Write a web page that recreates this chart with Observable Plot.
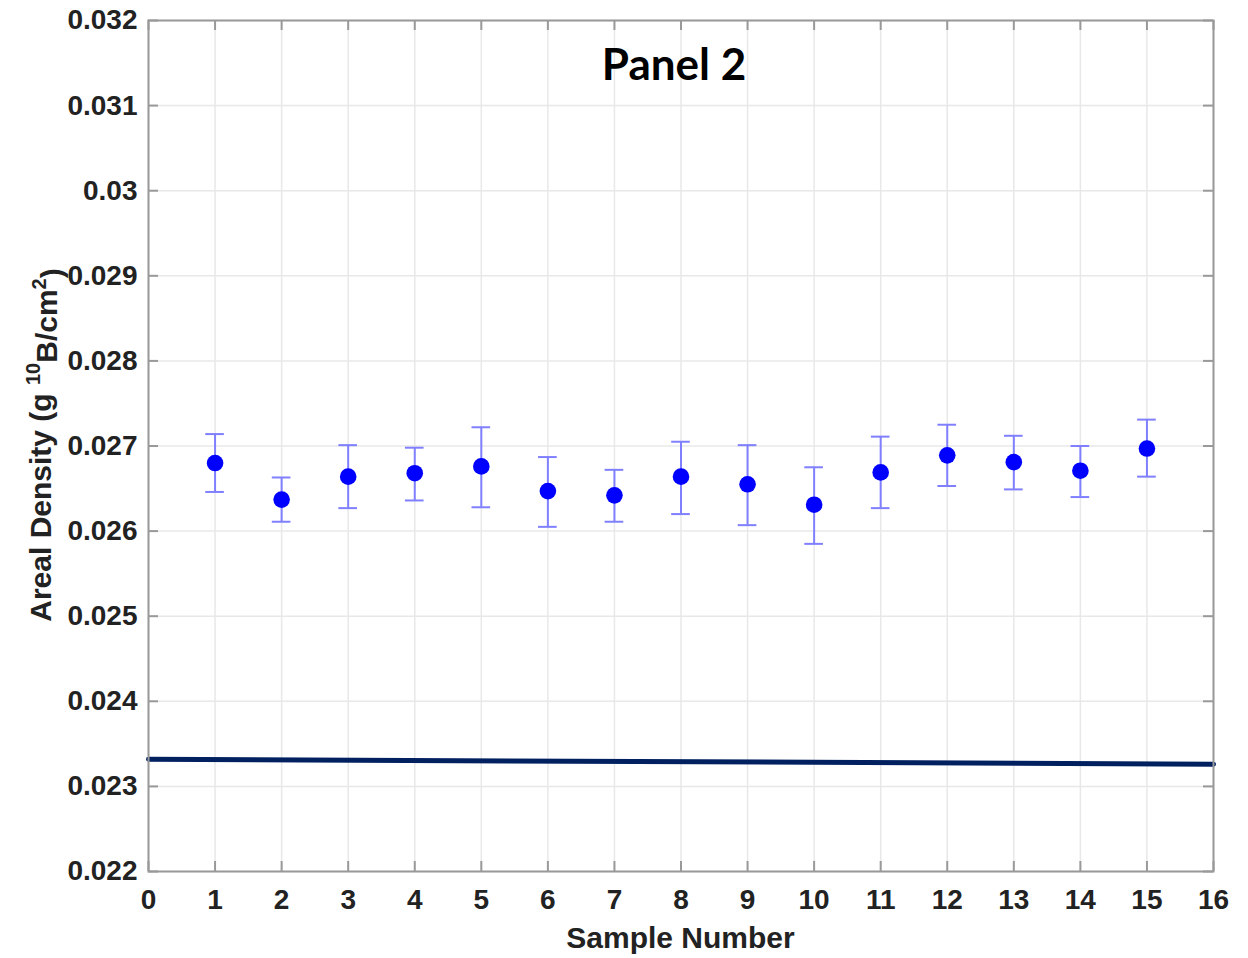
<!DOCTYPE html>
<html><head><meta charset="utf-8">
<script src="https://cdn.jsdelivr.net/npm/d3@7"></script>
<script src="https://cdn.jsdelivr.net/npm/@observablehq/plot@0.6"></script>
<style>body{margin:0;background:#fff}#chart svg{display:block}</style>
</head><body><div id="chart"></div>
<script>
const samples = [1, 2, 3, 4, 5, 6, 7, 8, 9, 10, 11, 12, 13, 14, 15];
const density = [0.02680, 0.02637, 0.02664, 0.02668, 0.02676, 0.02647, 0.02642, 0.02664, 0.02655, 0.02631, 0.02669, 0.02689, 0.02681, 0.02671, 0.02697];
const upper   = [0.02714, 0.02663, 0.02701, 0.02698, 0.02722, 0.02687, 0.02672, 0.02705, 0.02701, 0.02675, 0.02711, 0.02725, 0.02712, 0.02700, 0.02731];
const lower   = [0.02646, 0.02611, 0.02627, 0.02636, 0.02628, 0.02605, 0.02611, 0.02620, 0.02607, 0.02585, 0.02627, 0.02653, 0.02649, 0.02640, 0.02664];
const refX = [0, 16];
const refY = [0.02332, 0.02326];
const xTicks = [0, 1, 2, 3, 4, 5, 6, 7, 8, 9, 10, 11, 12, 13, 14, 15, 16];
const yTicks = [0.022, 0.023, 0.024, 0.025, 0.026, 0.027, 0.028, 0.029, 0.030, 0.031, 0.032];
const titleText = "Panel 2";
const xLabel = "Sample Number";

const rows = samples.map((s, i) => ({sample: s, value: density[i], hi: upper[i], lo: lower[i]}));
const refRows = refX.map((x, i) => ({x, y: refY[i]}));

const W = 1248, H = 958;
const mL = 148, mR = 35, mT = 20, mB = 87;
const fw = W - mL - mR, fh = H - mT - mB;
const capHalf = 0.14;
const tickLen = 10;
const axisGray = "#999999";
const gridGray = "#e8e8e8";
const errColor = "#7f7fff";

const chart = Plot.plot({
  width: W, height: H,
  marginLeft: mL, marginRight: mR, marginTop: mT, marginBottom: mB,
  style: {fontFamily: "'Liberation Sans', Arial, sans-serif", fontSize: "28px", fontWeight: "bold", color: "#222", background: "#fff"},
  x: {domain: [0, 16]},
  y: {domain: [0.022, 0.032]},
  marks: [
    Plot.gridX(xTicks, {stroke: gridGray, strokeOpacity: 1, strokeWidth: 1.5}),
    Plot.gridY(yTicks, {stroke: gridGray, strokeOpacity: 1, strokeWidth: 1.5}),
    Plot.line(refRows, {x: "x", y: "y", stroke: "#002060", strokeWidth: 5}),
    Plot.ruleX(rows, {x: "sample", y1: "lo", y2: "hi", stroke: errColor, strokeWidth: 2}),
    Plot.ruleY(rows, {y: "hi", x1: d => d.sample - capHalf, x2: d => d.sample + capHalf, stroke: errColor, strokeWidth: 2}),
    Plot.ruleY(rows, {y: "lo", x1: d => d.sample - capHalf, x2: d => d.sample + capHalf, stroke: errColor, strokeWidth: 2}),
    Plot.dot(rows, {x: "sample", y: "value", r: 8.3, fill: "#0000ff", stroke: null}),
    Plot.tickX(xTicks, {x: d => d, insetTop: fh - tickLen, stroke: axisGray, strokeWidth: 2}),
    Plot.tickX(xTicks, {x: d => d, insetBottom: fh - tickLen, stroke: axisGray, strokeWidth: 2}),
    Plot.tickY(yTicks, {y: d => d, insetRight: fw - tickLen, stroke: axisGray, strokeWidth: 2}),
    Plot.tickY(yTicks, {y: d => d, insetLeft: fw - tickLen, stroke: axisGray, strokeWidth: 2}),
    Plot.frame({stroke: axisGray, strokeWidth: 2}),
    Plot.axisX(xTicks, {tickSize: 0, tickPadding: 18, label: null, fill: "#222"}),
    Plot.axisY(yTicks, {tickSize: 0, tickPadding: 11, label: null, fill: "#222", tickFormat: d => String(+d.toFixed(3))}),
    Plot.text([titleText], {frameAnchor: "top", dx: -7, dy: 45, lineAnchor: "middle", fontFamily: "Lato, 'Open Sans', sans-serif", fontSize: 44, fontWeight: "bold", fill: "#000"})
  ]
});

const svg = d3.select(chart);
svg.append("text")
  .attr("x", mL + fw / 2).attr("y", 948)
  .attr("text-anchor", "middle")
  .attr("fill", "#222")
  .style("font-family", "'Liberation Sans', Arial, sans-serif")
  .style("font-size", "30px").style("font-weight", "bold")
  .text(xLabel);

const yl = svg.append("text")
  .attr("transform", "translate(51,445) rotate(-90)")
  .attr("text-anchor", "middle")
  .attr("fill", "#222")
  .style("font-family", "'Liberation Sans', Arial, sans-serif")
  .style("font-size", "30px").style("font-weight", "bold");
yl.append("tspan").text("Areal Density (g ");
yl.append("tspan").attr("dy", "-0.55em").style("font-size", "20px").text("10");
yl.append("tspan").attr("dy", "0.55em").text("B/cm");
yl.append("tspan").attr("dy", "-0.55em").style("font-size", "20px").text("2");
yl.append("tspan").attr("dy", "0.55em").text(")");

document.getElementById("chart").append(chart);
</script>
</body></html>
